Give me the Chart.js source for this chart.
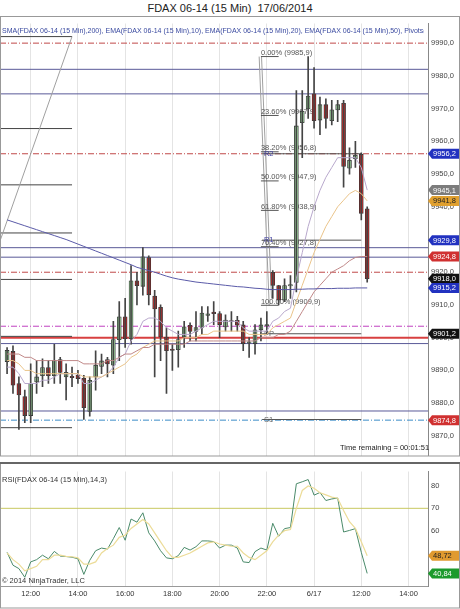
<!DOCTYPE html>
<html lang="en">
<head>
  <meta charset="UTF-8" />
  <title>FDAX 06-14 (15 Min) 17/06/2014</title>
  <script src="https://cdn.jsdelivr.net/npm/chart.js@4.4.1/dist/chart.umd.min.js"></script>
  <style>
    body { margin: 0; background: #fff; font-family: "Liberation Sans", Arial, sans-serif; }
    #wrap { position: relative; width: 460px; height: 609px; overflow: hidden; }
    #title { position: absolute; top: 2px; left: 0; width: 460px; text-align: center; font-size: 11px; color: #222; }
    #main { position: absolute; top: 16px; left: 0; width: 460px; height: 447px; }
    #rsi { position: absolute; top: 464px; left: 0; width: 460px; height: 145px; }
    #sep { position: absolute; top: 462px; left: 0; width: 460px; height: 2px; background: #666; }
  </style>
</head>
<body>
<div id="wrap">
  <div id="title">FDAX 06-14 (15 Min)&nbsp; 17/06/2014</div>
  <div id="main"><canvas id="mainChart"></canvas></div>
  <div id="sep"></div>
  <div id="rsi"><canvas id="rsiChart"></canvas></div>
</div>
<script>
  // ---- data ----
  const opens  = [9892.7,9895.8,9886,9882,9876.2,9886.5,9888.4,9890.9,9888.4,9893.3,9888,9888.2,9888.6,9887.6,9877.5,9888,9891.2,9893.3,9891.6,9899.4,9906.4,9899.7,9917.4,9915.7,9924.5,9912.7,9909.3,9900.2,9896.5,9896.3,9900.2,9903.8,9901.9,9903.1,9906.8,9907.8,9907.4,9903.3,9905.2,9905.3,9903.9,9898.3,9898.2,9902.4,9903.6,9920,9915.9,9911.5,9915.8,9916.9,9965.7,9969.9,9974.5,9966.5,9971.2,9966.3,9969.6,9971.6,9951.8,9954.7,9956,9939.4];
  const highs  = [9897,9897.5,9888,9884,9892,9893,9893.5,9893,9898,9894,9892,9891,9890,9888.5,9888,9896,9895,9894,9905,9911,9912,9922,9920,9927.5,9925,9914.5,9910,9903,9898,9902,9905,9904.5,9908,9909.5,9909.5,9911,9908,9907,9908,9906.5,9905,9900,9904,9906,9908,9920.5,9916,9918,9919,9975.5,9975.5,9985.9,9982.5,9973.5,9973,9972.5,9972.5,9972.5,9958,9960,9956.5,9940];
  const lows   = [9889,9883,9872,9874,9874,9883,9885,9886,9886,9886,9881,9885,9886,9875,9876,9884,9889,9888,9889,9893,9897,9898,9910,9913,9910,9888,9893,9883,9890,9891,9897,9899,9899,9901,9905,9904,9900,9902,9902,9902,9896,9894,9895,9899,9901,9912,9910,9911,9912,9914,9955,9967,9964,9962,9964,9965,9966,9946,9950,9952,9936,9917];
  const closes = [9896.1,9885.5,9882.5,9876.2,9886,9888,9890.9,9888.4,9893.1,9889.4,9889.4,9887.8,9887.5,9878.6,9887,9891.6,9892.9,9892,9899.4,9906.4,9899.7,9917.4,9915.9,9924.7,9913.1,9908.8,9900.2,9896,9896.1,9899.4,9903.3,9901.9,9903.1,9907.5,9907.3,9907.3,9904,9905.4,9904.9,9903.8,9898.2,9898.7,9902.4,9903.9,9904,9916,9911.5,9915.9,9916.2,9964.7,9969.2,9973.8,9966.3,9971.2,9967,9969.6,9971.2,9952.3,9954.2,9955.7,9938,9918];

  const sma200 = [9936,9935.4,9934.8,9934.2,9933.6,9933,9932.4,9931.8,9931.2,9930.6,9930,9929.3,9928.6,9927.9,9927.2,9926.5,9925.8,9925.1,9924.4,9923.7,9923,9922.3,9921.5,9921,9920.5,9920,9919.4,9918.8,9918.3,9917.9,9917.6,9917.3,9917,9916.8,9916.6,9916.4,9916.2,9916,9915.8,9915.6,9915.5,9915.3,9915.1,9915,9914.8,9914.7,9914.7,9914.7,9914.7,9914.8,9914.8,9914.9,9914.9,9915,9915,9915,9915.1,9915.1,9915.1,9915.2,9915.2,9915.2];
  const ema10  = [9891,9891,9889,9886,9886,9886,9887,9887,9888,9889,9889,9889,9889,9886,9886,9887,9888,9889,9891,9894,9895,9899,9901,9905,9906,9906,9905,9903,9902,9901,9901,9901,9902,9903,9904,9905,9905,9905,9905,9905,9903,9902,9902,9902,9902,9905,9906,9908,9909,9918,9926,9934,9940,9945,9949,9952,9955,9955,9955,9955,9952,9945.1];
  const ema20  = [9893,9893,9892,9890,9890,9889,9889,9889,9889,9889,9889,9889,9889,9888,9888,9888,9888,9889,9890,9891,9892,9894,9895,9897,9898,9899,9899,9899,9899,9899,9900,9900,9900,9901,9901,9902,9902,9902,9902,9902,9902,9901,9901,9901,9901,9903,9904,9905,9906,9911,9916,9921,9926,9930,9934,9937,9940,9942,9944,9945,9944,9941.8];
  const ema50  = [9895,9895,9895,9894,9894,9893,9893,9893,9893,9893,9893,9893,9893,9892,9892,9892,9892,9893,9893,9894,9895,9895,9896,9897,9897,9898,9898,9898,9898,9898,9898,9899,9899,9899,9899,9899,9899,9899,9899,9899,9899,9899,9899,9900,9900,9900,9901,9901,9902,9905,9908,9911,9914,9916,9918,9920,9921,9922,9923.5,9924.5,9924.8,9924.8];

  const rsi    = [50.3,44.5,43,39.1,46,47,49,47.4,50.7,48.6,48.4,48.1,47.4,40.4,46.7,51,52.2,51.7,56.4,61.4,55.7,65.2,63.8,68,59,55.4,51,47.8,47.4,48.8,52.5,51.3,52.8,55.4,55.4,55.1,52.2,53.5,53.5,52.2,46,45.7,50.6,52.2,51.3,63.3,57.5,60.9,61.4,81,81.9,82.9,75.9,77.1,73.5,74.2,74.6,59.4,60.1,60.9,50.3,40.84];
  const rsiAvg = [50,47,45,42,43,44,47,47,49,49,48.5,48.3,47.8,45,45,46,50,52,53.5,57,58,61,63,65,63,59,55,51,48,48,49,50,51.5,53,54.5,55,54,53.5,53,53,50,48,47,49,51,55,58,60,60.5,70,78,80,79,77,76,75,74.5,69,64,61,55,48.72];

  const timeTicks  = [4, 12, 20, 28, 36, 44, 52, 60, 68];
  const timeLabels = ['12:00','14:00','16:00','18:00','20:00','22:00','6/17','12:00','14:00'];
  const priceTicks = [9870,9880,9890,9900,9910,9920,9930,9940,9950,9960,9970,9980,9990];

  // full-width levels: [price, colour, dash, width]
  const levels = [
    [9990, '#c04848', [6,2,1,2], 1], [9956.2, '#c04848', [6,2,1,2], 1], [9920, '#c04848', [6,2,1,2], 1],
    [9874.8, '#3c8cc8', [6,2,1,2], 1], [9903.5, '#c040c0', [6,2,1,2], 1], [9900, '#d84040', [], 2],
    [9982, '#5a5a98', [], 1], [9974.5, '#5a5a98', [], 1], [9927.5, '#5a5a98', [], 1],
    [9924.6, '#5a5a98', [], 1], [9898.2, '#5a5a98', [], 1], [9877.6, '#5a5a98', [], 1]
  ];
  const shortLevels = [9992, 9963.9, 9946.7, 9932, 9917.8, 9900.4, 9872.5];
  const fibLevels = [['0.00%', 9985.9], ['23.60%', 9967.9], ['38.20%', 9956.8], ['50.00%', 9947.9], ['61.80%', 9938.9], ['76.40%', 9927.8], ['100.00%', 9909.9]];
  const pivots = [['R2', 9956.2], ['R1', 9929.8], ['PP', 9901.2], ['S1', 9875]];
  const priceTags = [
    [9956.2, '#2232c0', '#fff'], [9945.1, '#7c7c7c', '#fff'], [9941.8, '#e0a030', '#222'], [9929.8, '#2232c0', '#fff'],
    [9924.8, '#d03030', '#fff'], [9918.0, '#111', '#fff'], [9915.2, '#2232c0', '#fff'], [9901.2, '#111', '#fff'], [9874.8, '#d03030', '#fff']
  ];
  const rsiTags = [[48.72, '#e09a30', '#222'], [40.84, '#1c9a2c', '#fff']];

  const idx = opens.map((_, i) => i);
  const pts = arr => arr.map((v, i) => ({ x: i, y: v }));
  const fmt = v => v.toFixed(1).replace('.', ',');

  function tag(ctx, x, y, text, bg, fg) {
    ctx.save();
    ctx.fillStyle = bg;
    ctx.beginPath();
    ctx.moveTo(x, y); ctx.lineTo(x + 4, y - 5); ctx.lineTo(x + 31, y - 5);
    ctx.lineTo(x + 31, y + 5); ctx.lineTo(x + 4, y + 5); ctx.closePath(); ctx.fill();
    ctx.fillStyle = fg; ctx.font = '7.5px "Liberation Sans", Arial'; ctx.textBaseline = 'middle';
    ctx.fillText(text, x + 5, y + 0.5);
    ctx.restore();
  }

  function hline(ctx, x1, x2, y, color, dash, w) {
    ctx.save(); ctx.strokeStyle = color; ctx.lineWidth = w; ctx.setLineDash(dash);
    ctx.beginPath(); ctx.moveTo(x1, y); ctx.lineTo(x2, y); ctx.stroke(); ctx.restore();
  }

  const xScaleBase = {
    type: 'linear', min: -1.2, max: 71.3, offset: false,
    afterBuildTicks: s => { s.ticks = timeTicks.map(v => ({ value: v })); },
    grid: { color: '#e4e4e4', drawTicks: false, offset: false },
    border: { display: false }
  };

  const mainOverlay = {
    id: 'mainOverlay',
    beforeDatasetsDraw(chart) {
      const { ctx, chartArea: a, scales: { x, y } } = chart;
      ctx.save();
      ctx.beginPath(); ctx.rect(a.left, a.top, a.right - a.left, a.bottom - a.top); ctx.clip();
      levels.forEach(l => hline(ctx, a.left, a.right, y.getPixelForValue(l[0]), l[1], l[2], l[3]));
      shortLevels.forEach(v => hline(ctx, a.left, x.getPixelForValue(11), y.getPixelForValue(v), '#444', [], 1));
      // drawn trend line and fib anchor
      ctx.strokeStyle = '#a0a0a0'; ctx.lineWidth = 1;
      ctx.beginPath();
      ctx.moveTo(x.getPixelForValue(-1.5), y.getPixelForValue(9928));
      ctx.lineTo(x.getPixelForValue(11), y.getPixelForValue(9992));
      ctx.moveTo(x.getPixelForValue(42.7), y.getPixelForValue(9985.9));
      ctx.lineTo(x.getPixelForValue(44.4), y.getPixelForValue(9909.9));
      ctx.moveTo(x.getPixelForValue(43.1), y.getPixelForValue(9985.9));
      ctx.lineTo(x.getPixelForValue(44.8), y.getPixelForValue(9912));
      ctx.stroke();
      ctx.font = '7.5px "Liberation Sans", Arial'; ctx.textBaseline = 'bottom';
      fibLevels.forEach(f => {
        const py = y.getPixelForValue(f[1]);
        hline(ctx, x.getPixelForValue(43), x.getPixelForValue(46), py, '#555', [], 1);
        ctx.fillStyle = '#555';
        ctx.fillText(f[0] + ' (' + fmt(f[1]) + ')', x.getPixelForValue(43), py);
      });
      pivots.forEach(p => {
        const py = y.getPixelForValue(p[1]);
        hline(ctx, x.getPixelForValue(43.2), x.getPixelForValue(60), py, '#555', [], 1);
        ctx.fillStyle = p[0] === 'R2' || p[0] === 'R1' ? '#4040a0' : '#666';
        ctx.fillText(p[0], x.getPixelForValue(43.5), py + 4);
      });
      ctx.restore();
    },
    afterDraw(chart) {
      const { ctx, chartArea: a, scales: { y } } = chart;
      priceTags.forEach(t => tag(ctx, a.right, y.getPixelForValue(t[0]), fmt(t[0]), t[1], t[2]));
      ctx.save();
      ctx.beginPath(); ctx.rect(0, 0, a.right - 4, a.bottom); ctx.clip();
      ctx.font = '7px "Liberation Sans", Arial'; ctx.fillStyle = '#3a4aa0'; ctx.textBaseline = 'top';
      const txt = 'SMA(FDAX 06-14 (15 Min),200), EMA(FDAX 06-14 (15 Min),10), EMA(FDAX 06-14 (15 Min),20), EMA(FDAX 06-14 (15 Min),50), Pivots(FDAX 06-14';
      ctx.fillText(txt, 2, a.top + 4);
      ctx.restore();
      ctx.save();
      ctx.fillStyle = '#222'; ctx.font = '7.5px "Liberation Sans", Arial';
      ctx.fillText('Time remaining = 00:01:51', 340, a.bottom - 6);
      ctx.strokeStyle = '#999'; ctx.lineWidth = 1;
      ctx.strokeRect(0.5, 0.5, chart.width - 1, a.bottom);
      ctx.restore();
    }
  };

  const yMain = {
    position: 'right', min: 9864, max: 9996,
    afterBuildTicks: s => { s.ticks = priceTicks.map(v => ({ value: v })); },
    afterFit: s => { s.width = 32; },
    grid: { display: false, drawTicks: false },
    border: { color: '#888' },
    ticks: { font: { size: 7.5, family: '"Liberation Sans", Arial' }, color: '#444', padding: 3, callback: v => fmt(v) }
  };

  new Chart(document.getElementById('mainChart'), {
    data: {
      datasets: [
        { type: 'line', data: pts(sma200), borderColor: '#5a5aa8', borderWidth: 1, pointRadius: 0 },
        { type: 'line', data: pts(ema50), borderColor: '#c08888', borderWidth: 1, pointRadius: 0 },
        { type: 'line', data: pts(ema20), borderColor: '#eac48a', borderWidth: 1, pointRadius: 0 },
        { type: 'line', data: pts(ema10), borderColor: '#b8a8cc', borderWidth: 1, pointRadius: 0 },
        { type: 'bar', grouped: false, barThickness: 1, backgroundColor: '#444',
          data: idx.map(i => ({ x: i, y: [lows[i], highs[i]] })) },
        { type: 'bar', grouped: false, barThickness: 4, borderWidth: 0.8, borderColor: '#333', borderSkipped: false,
          minBarLength: 1,
          backgroundColor: idx.map(i => closes[i] >= opens[i] ? '#9ed89e' : '#c82828'),
          data: idx.map(i => ({ x: i, y: [opens[i], closes[i]] })) }
      ]
    },
    options: {
      responsive: true, maintainAspectRatio: false, animation: false,
      layout: { padding: 0 },
      plugins: { legend: { display: false }, tooltip: { enabled: false } },
      scales: { x: { ...xScaleBase, ticks: { display: false } }, y: yMain }
    },
    plugins: [mainOverlay]
  });

  const rsiOverlay = {
    id: 'rsiOverlay',
    beforeDatasetsDraw(chart) {
      const { ctx, chartArea: a, scales: { y } } = chart;
      hline(ctx, a.left, a.right, y.getPixelForValue(70), '#c8c860', [], 1);
    },
    afterDraw(chart) {
      const { ctx, chartArea: a, scales: { y } } = chart;
      rsiTags.forEach(t => tag(ctx, a.right, y.getPixelForValue(t[0]), t[0].toFixed(2).replace('.', ','), t[1], t[2]));
      ctx.save();
      ctx.font = '7.5px "Liberation Sans", Arial'; ctx.fillStyle = '#333'; ctx.textBaseline = 'top';
      ctx.fillText('RSI(FDAX 06-14 (15 Min),14,3)', 2, a.top + 5);
      ctx.textBaseline = 'bottom';
      ctx.fillText('\u00a9 2014 NinjaTrader, LLC', 2, a.bottom - 1);
      ctx.strokeStyle = '#999'; ctx.lineWidth = 1;
      ctx.strokeRect(0.5, -1, chart.width - 1, chart.height);
      ctx.beginPath(); ctx.moveTo(a.left, a.bottom + 0.5); ctx.lineTo(a.right, a.bottom + 0.5); ctx.stroke();
      ctx.restore();
    }
  };

  new Chart(document.getElementById('rsiChart'), {
    type: 'line',
    data: {
      datasets: [
        { data: pts(rsiAvg), borderColor: '#ecdc98', borderWidth: 1.2, pointRadius: 0 },
        { data: pts(rsi), borderColor: '#4a8a6a', borderWidth: 1, pointRadius: 0 }
      ]
    },
    options: {
      responsive: true, maintainAspectRatio: false, animation: false,
      layout: { padding: { top: 1, bottom: 8 } },
      plugins: { legend: { display: false }, tooltip: { enabled: false } },
      scales: {
        x: { ...xScaleBase, ticks: { padding: 3, font: { size: 7.5, family: '"Liberation Sans", Arial' }, color: '#333',
             callback: v => timeLabels[timeTicks.indexOf(v)] ?? '' } },
        y: {
          position: 'right', min: 35.2, max: 86.5,
          afterBuildTicks: s => { s.ticks = [60, 70, 80].map(v => ({ value: v })); },
          afterFit: s => { s.width = 32; },
          grid: { display: false, drawTicks: false }, border: { color: '#888' },
          ticks: { font: { size: 7.5, family: '"Liberation Sans", Arial' }, color: '#444', padding: 3 }
        }
      }
    },
    plugins: [rsiOverlay]
  });
</script>
</body>
</html>
